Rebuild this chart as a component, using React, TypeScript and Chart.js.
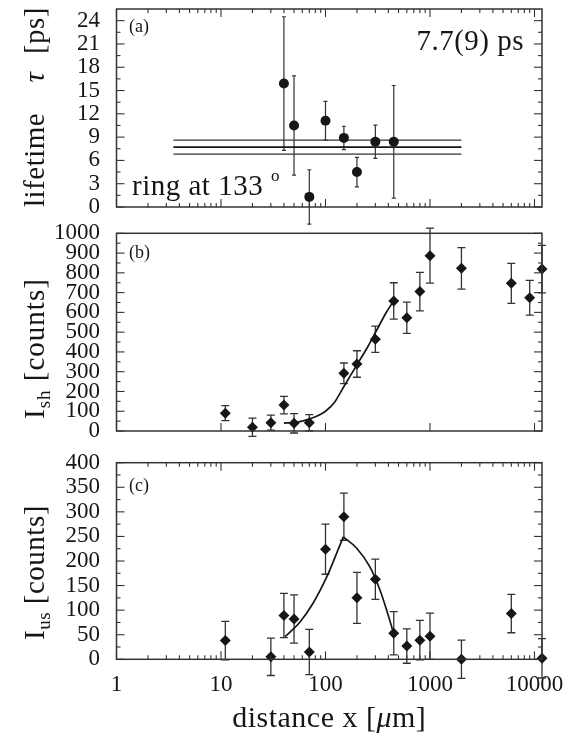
import React, { useEffect, useRef } from "react";
import { Chart, registerables } from "chart.js";
Chart.register(...registerables);

const SERIF = "'Liberation Serif', 'Times New Roman', serif";
const INK = "#161616";
const LINE = "#333333";

// ---------- shared distance axis ----------
const xTickValues = [1, 10, 100, 1000, 10000];
const xMin = 1;
const xMax = 11800;

// ---------- panel (a): lifetime ----------
const distA = [40, 50, 70, 100, 150, 200, 300, 450];
const tauA = [15.9, 10.5, 1.3, 11.1, 8.9, 4.5, 8.4, 8.4];
const tauErrA = [8.6, 6.4, 3.5, 2.5, 1.5, 1.9, 2.15, 7.25];
const tauFitRange = [3.5, 2000];
const tauFit = 7.7;
const tauFitErr = 0.9;
const yTicksA = [0, 3, 6, 9, 12, 15, 18, 21, 24];
const yMaxA = 25.5;

// ---------- panel (b): I_sh ----------
const distB = [11, 20, 30, 40, 50, 70, 150, 200, 300, 450, 600, 800, 1000, 2000, 6000, 9000, 11800];
const shB = [90, 19, 42, 131, 39, 42, 292, 339, 464, 658, 573, 705, 887, 823, 747, 674, 819];
const shErrB = [38, 46, 38, 44, 49, 41, 52, 67, 66, 92, 79, 97, 139, 105, 101, 88, 120];
const shFitX = [40, 50, 60, 70, 80, 90, 100, 120, 150, 200, 250, 286, 335, 385, 445];
const shFitY = [40, 43, 50, 60, 72, 85, 100, 140, 225, 335, 420, 477, 545, 603, 655];
const yTicksB = [0, 100, 200, 300, 400, 500, 600, 700, 800, 900, 1000];

// ---------- panel (c): I_us ----------
const distC = [11, 30, 40, 50, 70, 100, 150, 200, 300, 450, 600, 800, 1000, 2000, 6000, 11800];
const usC = [38, 5, 89, 82, 15, 224, 290, 125, 163, 53, 27, 39, 47, 0, 93, 2];
const usErrC = [39, 38, 45, 49, 46, 51, 48, 52, 41, 44, 35, 40, 47, 39, 39, 40];
const usFitRiseX = [41, 57, 76, 103, 128, 148];
const usFitRiseY = [46, 76, 114, 168, 216, 249];
const usFitFallX = [148, 199, 266, 332, 385, 430, 445];
const usFitFallY = [249, 226, 188, 141, 100, 66, 54];
const yTicksC = [0, 50, 100, 150, 200, 250, 300, 350, 400];

type Part = { t: string; size: number; dy?: number; italic?: boolean };

function drawParts(
  ctx: CanvasRenderingContext2D,
  x: number,
  y: number,
  parts: Part[],
  align: "start" | "center" | "end",
  rotated: boolean,
  spacing = "0.5px"
) {
  ctx.save();
  ctx.translate(x, y);
  if (rotated) ctx.rotate(-Math.PI / 2);
  (ctx as any).letterSpacing = spacing;
  ctx.fillStyle = INK;
  ctx.textBaseline = "alphabetic";
  ctx.textAlign = "left";
  const fontOf = (p: Part) => `${p.italic ? "italic " : ""}${p.size}px ${SERIF}`;
  let total = 0;
  parts.forEach((p) => {
    ctx.font = fontOf(p);
    total += ctx.measureText(p.t).width;
  });
  let cx = align === "start" ? 0 : align === "center" ? -total / 2 : -total;
  parts.forEach((p) => {
    ctx.font = fontOf(p);
    ctx.fillText(p.t, cx, p.dy || 0);
    cx += ctx.measureText(p.t).width;
  });
  ctx.restore();
}

type Deco = {
  errors: { ds: number; err: number[]; cap: number; width: number }[];
  yMinorStep: number;
  xMinor: boolean;
  draw: (ctx: CanvasRenderingContext2D, chart: any) => void;
};

function decoPlugin(d: Deco) {
  return {
    id: "deco",
    beforeDatasetsDraw(chart: any) {
      const ctx: CanvasRenderingContext2D = chart.ctx;
      const xs = chart.scales.x;
      const ys = chart.scales.y;
      ctx.save();
      ctx.strokeStyle = LINE;
      d.errors.forEach(({ ds, err, cap, width }) => {
        ctx.lineWidth = width;
        const data = chart.data.datasets[ds].data as { x: number; y: number }[];
        data.forEach((p, i) => {
          const px = xs.getPixelForValue(p.x);
          const t = ys.getPixelForValue(p.y + err[i]);
          const b = ys.getPixelForValue(p.y - err[i]);
          ctx.beginPath();
          ctx.moveTo(px, t);
          ctx.lineTo(px, b);
          ctx.moveTo(px - cap, t);
          ctx.lineTo(px + cap, t);
          ctx.moveTo(px - cap, b);
          ctx.lineTo(px + cap, b);
          ctx.stroke();
        });
      });
      ctx.restore();
    },
    afterDatasetsDraw(chart: any) {
      const ctx: CanvasRenderingContext2D = chart.ctx;
      const xs = chart.scales.x;
      const ys = chart.scales.y;
      const { left, right, top, bottom } = chart.chartArea;
      ctx.save();
      ctx.strokeStyle = LINE;
      ctx.lineWidth = 1.5;
      ctx.strokeRect(left, top, right - left, bottom - top);
      ctx.lineWidth = 1.1;
      const seg = (x1: number, y1: number, x2: number, y2: number) => {
        ctx.beginPath();
        ctx.moveTo(x1, y1);
        ctx.lineTo(x2, y2);
        ctx.stroke();
      };
      const majors = ys.ticks.map((t: any) => t.value);
      majors.forEach((v: number) => {
        const py = ys.getPixelForValue(v);
        seg(left, py, left + 8, py);
        seg(right, py, right - 8, py);
      });
      for (let k = 1; k * d.yMinorStep < ys.max - 1e-6; k++) {
        const v = k * d.yMinorStep;
        if (majors.some((m: number) => Math.abs(m - v) < 1e-6)) continue;
        const py = ys.getPixelForValue(v);
        seg(left, py, left + 4, py);
        seg(right, py, right - 4, py);
      }
      xs.ticks.forEach((t: any) => {
        const px = xs.getPixelForValue(t.value);
        seg(px, bottom, px, bottom - 8);
        if (d.xMinor) seg(px, top, px, top + 8);
      });
      if (d.xMinor) {
        for (let dec = 1; dec <= 10000; dec *= 10) {
          for (let m = 2; m <= 9; m++) {
            const v = m * dec;
            if (v > xs.max) continue;
            const px = xs.getPixelForValue(v);
            seg(px, bottom, px, bottom - 4);
            seg(px, top, px, top + 4);
          }
        }
      }
      ctx.restore();
      d.draw(ctx, chart);
    },
  };
}

function baseOptions(
  yTicks: number[],
  yMax: number,
  padTop: number,
  padBottom: number,
  showX: boolean
): any {
  return {
    responsive: false,
    animation: false,
    devicePixelRatio: 1,
    events: [],
    layout: { padding: { top: padTop, bottom: padBottom, left: 0, right: 37 } },
    plugins: { legend: { display: false }, tooltip: { enabled: false } },
    scales: {
      x: {
        type: "logarithmic",
        min: xMin,
        max: xMax,
        display: showX,
        afterBuildTicks: (s: any) => {
          s.ticks = xTickValues.map((v) => ({ value: v }));
        },
        afterFit: (s: any) => {
          s.height = showX ? 78.7 : 0;
          s.paddingLeft = 0;
          s.paddingRight = 0;
          s.paddingTop = 0;
          s.paddingBottom = 0;
        },
        grid: { display: false, drawTicks: false },
        border: { display: false },
        ticks: {
          autoSkip: false,
          maxRotation: 0,
          padding: 12,
          color: INK,
          font: { family: SERIF, size: 23 },
          callback: (v: any) => String(v),
        },
      },
      y: {
        type: "linear",
        min: 0,
        max: yMax,
        afterBuildTicks: (s: any) => {
          s.ticks = yTicks.map((v) => ({ value: v }));
        },
        afterFit: (s: any) => {
          s.width = 116.5;
          s.paddingTop = 0;
          s.paddingBottom = 0;
          s.paddingLeft = 0;
          s.paddingRight = 0;
        },
        grid: { display: false, drawTicks: false },
        border: { display: false },
        ticks: {
          autoSkip: false,
          padding: 16.5,
          color: INK,
          font: { family: SERIF, size: 23 },
          callback: (v: any) => String(v),
        },
      },
    },
  };
}

function pts(xs: number[], ys: number[]) {
  return xs.map((x, i) => ({ x, y: ys[i] }));
}

export default function App() {
  const refA = useRef<HTMLCanvasElement>(null);
  const refB = useRef<HTMLCanvasElement>(null);
  const refC = useRef<HTMLCanvasElement>(null);

  useEffect(() => {
    const charts: Chart[] = [];
    let cancelled = false;

    const build = () => {
      if (cancelled) return;
      // ----- panel (a) -----
      charts.push(
        new Chart(refA.current!, {
          type: "scatter",
          data: {
            datasets: [
              {
                data: pts(distA, tauA),
                pointStyle: "circle",
                pointRadius: 5,
                backgroundColor: INK,
                borderColor: INK,
                borderWidth: 0,
                clip: false,
              } as any,
              {
                data: tauFitRange.map((x) => ({ x, y: tauFit + tauFitErr })),
                showLine: true,
                pointRadius: 0,
                borderColor: LINE,
                borderWidth: 1.2,
              },
              {
                data: tauFitRange.map((x) => ({ x, y: tauFit })),
                showLine: true,
                pointRadius: 0,
                borderColor: INK,
                borderWidth: 1.7,
              },
              {
                data: tauFitRange.map((x) => ({ x, y: tauFit - tauFitErr })),
                showLine: true,
                pointRadius: 0,
                borderColor: LINE,
                borderWidth: 1.2,
              },
            ],
          },
          options: baseOptions(yTicksA, yMaxA, 9, 33, false),
          plugins: [
            decoPlugin({
              errors: [{ ds: 0, err: tauErrA, cap: 2, width: 1.2 }],
              yMinorStep: 1.5,
              xMinor: true,
              draw: (ctx, chart) => {
                const { left, top } = chart.chartArea;
                drawParts(ctx, left + 12.5, top + 23, [{ t: "(a)", size: 18 }], "start", false, "0px");
                drawParts(ctx, 524, 50, [{ t: "7.7(9) ps", size: 29 }], "end", false);
                drawParts(ctx, 132, 195, [{ t: "ring at 133", size: 29 }], "start", false);
                drawParts(ctx, 271, 181, [{ t: "o", size: 17 }], "start", false, "0px");
                drawParts(ctx, 44, 207, [{ t: "lifetime", size: 29 }], "start", true);
                drawParts(ctx, 44, 77, [{ t: "τ", size: 29, italic: true }], "center", true);
                drawParts(ctx, 44, 7, [{ t: "[ps]", size: 29 }], "end", true);
              },
            }),
          ],
        })
      );

      // ----- panel (b) -----
      charts.push(
        new Chart(refB.current!, {
          type: "scatter",
          data: {
            datasets: [
              {
                data: pts(distB, shB),
                pointStyle: "rectRot",
                pointRadius: 5.5,
                backgroundColor: INK,
                borderColor: INK,
                borderWidth: 0,
                clip: false,
              } as any,
              {
                data: pts(shFitX, shFitY),
                showLine: true,
                pointRadius: 0,
                borderColor: INK,
                borderWidth: 1.7,
                cubicInterpolationMode: "monotone",
              },
            ],
          },
          options: baseOptions(yTicksB, 1000, 18.3, 24, false),
          plugins: [
            decoPlugin({
              errors: [{ ds: 0, err: shErrB, cap: 4, width: 1.3 }],
              yMinorStep: 50,
              xMinor: false,
              draw: (ctx, chart) => {
                const { left, top } = chart.chartArea;
                drawParts(ctx, left + 12.5, top + 25, [{ t: "(b)", size: 18 }], "start", false, "0px");
                drawParts(
                  ctx,
                  44,
                  204,
                  [
                    { t: "I", size: 29 },
                    { t: "sh", size: 19, dy: 6 },
                    { t: " [counts]", size: 29 },
                  ],
                  "start",
                  true,
                  "1px"
                );
              },
            }),
          ],
        })
      );

      // ----- panel (c) -----
      charts.push(
        new Chart(refC.current!, {
          type: "scatter",
          data: {
            datasets: [
              {
                data: pts(distC, usC),
                pointStyle: "rectRot",
                pointRadius: 5.5,
                backgroundColor: INK,
                borderColor: INK,
                borderWidth: 0,
                clip: false,
              } as any,
              {
                data: pts(usFitRiseX, usFitRiseY),
                showLine: true,
                pointRadius: 0,
                borderColor: INK,
                borderWidth: 1.7,
                cubicInterpolationMode: "monotone",
              },
              {
                data: pts(usFitFallX, usFitFallY),
                showLine: true,
                pointRadius: 0,
                borderColor: INK,
                borderWidth: 1.7,
                cubicInterpolationMode: "monotone",
              },
            ],
          },
          options: baseOptions(yTicksC, 400, 22.7, 0, true),
          plugins: [
            decoPlugin({
              errors: [{ ds: 0, err: usErrC, cap: 4, width: 1.3 }],
              yMinorStep: 25,
              xMinor: true,
              draw: (ctx, chart) => {
                const { left, top, right, bottom } = chart.chartArea;
                drawParts(ctx, left + 12.5, top + 28, [{ t: "(c)", size: 18 }], "start", false, "0px");
                drawParts(
                  ctx,
                  44,
                  200,
                  [
                    { t: "I", size: 29 },
                    { t: "us", size: 19, dy: 6 },
                    { t: " [counts]", size: 29 },
                  ],
                  "start",
                  true
                );
                drawParts(
                  ctx,
                  (left + right) / 2,
                  bottom + 68,
                  [
                    { t: "distance x [", size: 30 },
                    { t: "μ", size: 30, italic: true },
                    { t: "m]", size: 30 },
                  ],
                  "center",
                  false
                );
              },
            }),
          ],
        })
      );
    };

    const fonts = (document as any).fonts;
    if (fonts && fonts.load) {
      Promise.all([
        fonts.load(`23px "Liberation Serif"`),
        fonts.load(`italic 29px "Liberation Serif"`),
      ])
        .catch(() => null)
        .then(build);
    } else {
      build();
    }

    return () => {
      cancelled = true;
      charts.forEach((c) => c.destroy());
    };
  }, []);

  const cv = (top: number): React.CSSProperties => ({
    position: "absolute",
    left: 0,
    top,
    width: 579,
  });

  return (
    <div style={{ position: "absolute", left: 0, top: 0, width: 579, height: 738, background: "#fff" }}>
      <canvas ref={refC} width={579} height={298} style={{ ...cv(440), height: 298 }} />
      <canvas ref={refB} width={579} height={240} style={{ ...cv(215), height: 240 }} />
      <canvas ref={refA} width={579} height={240} style={{ ...cv(0), height: 240 }} />
    </div>
  );
}
